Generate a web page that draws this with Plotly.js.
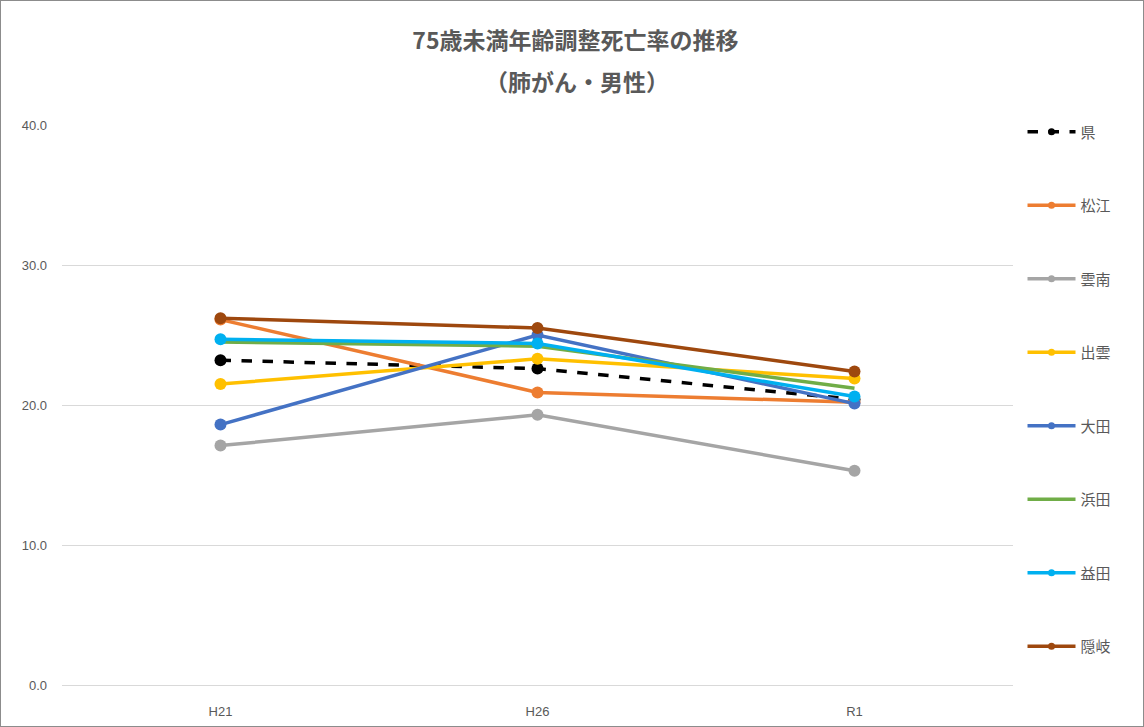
<!DOCTYPE html>
<html>
<head>
<meta charset="utf-8">
<script src="https://cdn.plot.ly/plotly-3.0.1.min.js"></script>
<style>
html,body{margin:0;padding:0;background:#fff;}
#wrap{width:1144px;height:727px;box-sizing:border-box;border:1px solid #8c8c8c;overflow:hidden;}
#chart{width:1142px;height:725px;}
</style>
</head>
<body>
<div id="wrap"><div id="chart"></div></div>
<script>
const categories = ["H21", "H26", "R1"];
const seriesNames = ["県", "松江", "雲南", "出雲", "大田", "浜田", "益田", "隠岐"];
const ken     = [23.2, 22.6, 20.4];
const matsue  = [26.1, 20.9, 20.2];
const unnan   = [17.1, 19.3, 15.3];
const izumo   = [21.5, 23.3, 21.9];
const ohda    = [18.6, 25.0, 20.1];
const hamada  = [24.5, 24.2, 21.2];
const masuda  = [24.7, 24.4, 20.6];
const oki     = [26.2, 25.5, 22.4];
const yTicks = [0, 10, 20, 30, 40];
const titleLine1 = "75歳未満年齢調整死亡率の推移";
const titleLine2 = "（肺がん・男性）";

const seriesValues = [ken, matsue, unnan, izumo, ohda, hamada, masuda, oki];
const colors = ["#000000", "#ED7D31", "#A5A5A5", "#FFC000", "#4472C4", "#70AD47", "#00B0F0", "#9E480E"];

const traces = [];
seriesNames.forEach((name, i) => {
  const isKen = i === 0;
  const noMarker = name === "浜田";
  traces.push({
    type: "scatter",
    x: categories,
    y: seriesValues[i],
    name: name,
    legendgroup: "g" + i,
    showlegend: false,
    mode: noMarker ? "lines" : "lines+markers",
    line: {color: colors[i], width: 3.5, dash: isKen ? "dash" : "solid"},
    marker: {color: colors[i], size: 12},
    hoverinfo: "x+y+name"
  });
});
// legend entries (smaller symbols, like the original)
seriesNames.forEach((name, i) => {
  const isKen = i === 0;
  const noMarker = name === "浜田";
  traces.push({
    type: "scatter",
    x: [null],
    y: [null],
    name: name,
    legendgroup: "g" + i,
    showlegend: true,
    mode: noMarker ? "lines" : "lines+markers",
    line: {color: colors[i], width: 3.5, dash: isKen ? "dash" : "solid"},
    marker: {color: colors[i], size: 7},
    hoverinfo: "skip"
  });
});

const layout = {
  width: 1142,
  height: 725,
  margin: {l: 61, r: 130, t: 124, b: 41},
  paper_bgcolor: "#ffffff",
  plot_bgcolor: "#ffffff",
  font: {family: "'Noto Sans CJK JP', 'Noto Sans', sans-serif", color: "#595959"},
  title: {
    text: "<b>" + titleLine1 + "</b>",
    font: {size: 23, color: "#595959", family: "'Noto Sans CJK JP', sans-serif"},
    x: 0.503, xref: "container", xanchor: "center", y: 1 - 40 / 725, yref: "container", yanchor: "middle"
  },
  annotations: [{
    text: "<b>" + titleLine2 + "</b>",
    xref: "paper", yref: "paper",
    x: (576 - 61) / 951, y: 1 + (124 - 80) / 560, xanchor: "center", yanchor: "middle",
    showarrow: false,
    font: {size: 23, color: "#595959", family: "'Noto Sans CJK JP', sans-serif"}
  }],
  xaxis: {
    type: "category",
    range: [-0.5, 2.5],
    showgrid: false,
    showline: true, linecolor: "#d9d9d9", linewidth: 1,
    ticks: "", ticklabelstandoff: 14,
    tickfont: {size: 13, color: "#595959", family: "'Liberation Sans', 'Noto Sans', sans-serif"},
    fixedrange: true
  },
  yaxis: {
    range: [0, 40],
    tickvals: yTicks,
    tickformat: ".1f",
    showgrid: true, gridcolor: "#d9d9d9", gridwidth: 1,
    zeroline: false, showline: false, ticks: "",
    ticklabelstandoff: 14,
    tickfont: {size: 13, color: "#595959", family: "'Liberation Sans', 'Noto Sans', sans-serif"},
    fixedrange: true
  },
  showlegend: true,
  legend: {
    x: 1.01, xanchor: "left", y: 1.017, yanchor: "top",
    font: {size: 15, color: "#595959", family: "'Noto Sans CJK JP', sans-serif"},
    tracegroupgap: 51,
    itemwidth: 48,
    itemsizing: "trace",
    maxheight: 700,
    bgcolor: "rgba(0,0,0,0)"
  },
  hovermode: "closest"
};

Plotly.newPlot("chart", traces, layout, {displayModeBar: false});
</script>
</body>
</html>
